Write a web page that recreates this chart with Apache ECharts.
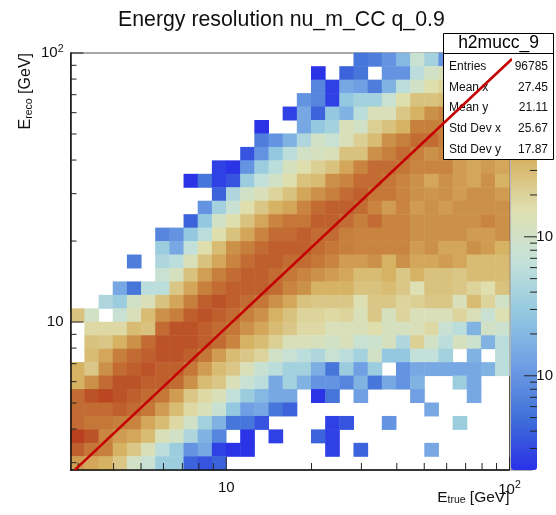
<!DOCTYPE html>
<html><head><meta charset="utf-8">
<style>html,body{margin:0;padding:0;background:#fff;overflow:hidden}#c{width:556px;height:515px}</style>
<script src="https://cdn.jsdelivr.net/npm/echarts@6/dist/echarts.min.js"></script>
</head><body><div id="c"></div>
<script>
const titleText = 'Energy resolution nu_m_CC q_0.9';
const statName = 'h2mucc_9';
const statLabels = ['Entries','Mean x','Mean y','Std Dev x','Std Dev y'];
const statValues = ['96785','27.45','21.11','25.67','17.87'];
const axisMin = 2.818, axisMax = 100;
const zMin = 2.1, zMax = 2100;
const xMinorTicks = [3,4,5,6,7,8,9,20,30,40,50,60,70,80,90];
const yMinorTicks = [3,4,5,6,7,8,9,20,30,40,50,60,70,80,90];
const majorTicks = [10,100];
const zMinorTicks = [3,4,5,6,7,8,9,20,30,40,50,60,70,80,90,200,300,400,500,600,700,800,900];
const zMajorTicks = [10,100,1000];
const diagX = [2.92,102];
const diagY = [2.82,95];
// counts per cell; first row is the top row (E_reco high), first column is the left one (E_true low)
const counts = [
[0,0,0,0,0,0,0,0,0,0,0,0,0,0,0,0,0,0,0,0,5.6,6.4,9.6,20,76,38,9.6,38,57,46,57],
[0,0,0,0,0,0,0,0,0,0,0,0,0,0,0,0,0,2.2,0,4.2,5.6,0,9.6,9.6,57,100,132,100,76,100,115],
[0,0,0,0,0,0,0,0,0,0,0,0,0,0,0,0,0,7.4,2.6,14.6,12,6.4,18,57,100,162,195,162,214,195,245],
[0,0,0,0,0,0,0,0,0,0,0,0,0,0,0,0,9.6,7.4,2.6,28,38,38,76,162,272,272,302,302,272,360,302],
[0,0,0,0,0,0,0,0,0,0,0,0,0,0,0,2.6,14.6,4.2,28,18,57,132,132,245,360,650,800,530,445,530,530],
[0,0,0,0,0,0,0,0,0,0,0,0,0,2.2,0,0,14.6,28,38,132,100,214,272,360,890,890,890,650,650,530,650],
[0,0,0,0,0,0,0,0,0,0,0,0,0,6.4,9.6,18,46,100,76,132,214,302,650,890,1170,1170,890,800,650,650,650],
[0,0,0,0,0,0,0,0,0,0,0,0,3.4,9.6,28,57,100,115,132,272,272,650,890,1170,890,650,800,650,530,650,530],
[0,0,0,0,0,0,0,0,0,0,2.6,2.2,9.6,33,57,115,162,214,272,445,800,1170,1170,990,800,800,800,530,445,530,445],
[0,0,0,0,0,0,0,0,2.2,5.6,2.6,3.4,33,65,100,162,272,302,650,800,1170,1170,990,800,650,445,650,530,445,650,360],
[0,0,0,0,0,0,0,0,0,0,4.2,46,100,132,195,272,445,650,890,1170,1380,990,990,800,650,600,650,530,650,650,530],
[0,0,0,0,0,0,0,0,0,9.6,38,76,162,245,360,445,800,1170,1380,1380,1170,800,530,800,530,650,530,650,650,650,650],
[0,0,0,0,0,0,0,0,4.2,28,100,162,272,445,800,1000,990,1380,1380,1170,890,1170,800,800,650,650,650,650,650,800,650],
[0,0,0,0,0,0,7.4,9.6,28,57,162,272,445,800,1170,1170,1380,1170,1170,890,800,800,800,800,650,650,650,650,530,530,650],
[0,0,0,0,0,0,33,14.6,65,162,302,650,890,1170,1380,1380,1380,1170,990,890,800,800,800,800,530,650,445,445,650,530,360],
[0,0,0,0,6.4,0,46,57,132,272,445,800,1170,1380,1380,1170,1170,990,800,530,530,650,360,650,445,445,530,445,302,302,302],
[0,0,0,0,0,0,76,115,272,500,890,1170,1380,1380,1170,990,800,650,530,445,302,302,360,245,360,272,272,245,302,302,302],
[0,0,0,14.6,5.6,57,57,245,445,890,1170,1380,1380,1380,1170,800,650,360,360,360,272,272,302,245,150,272,272,245,195,162,272],
[0,0,46,33,100,132,272,445,890,1380,1640,1380,1170,990,650,445,272,245,245,245,150,245,245,195,214,245,245,132,302,195,100],
[272,100,0,76,132,302,650,890,1380,1640,1380,1170,890,650,360,272,195,195,180,195,132,245,115,195,132,132,132,195,132,76,150],
[0,180,180,180,302,272,1170,1640,1640,1380,1170,990,650,445,302,245,180,180,132,132,132,162,115,115,132,180,76,57,18,100,85],
[0,272,245,360,650,1170,1640,1640,1640,1380,1170,800,360,302,214,132,132,120,100,132,76,85,115,46,214,100,57,115,85,18,57],
[0,302,445,890,1170,1380,1640,1640,1380,990,530,302,245,195,100,76,57,46,76,57,38,100,28,28,65,65,38,0,18,0,57],
[360,245,650,1170,1380,1640,1380,1380,990,530,302,245,132,76,57,38,38,16,5.6,33,12,33,0,9.6,14.6,14.6,14.6,14.6,14.6,18,57],
[360,650,1170,1640,1640,1380,1380,1170,650,302,245,132,76,57,14.6,38,18,9.6,9.6,7.4,18,5.6,14.6,9.6,18,0,0,33,14.6,0,0],
[1170,1640,1900,1640,1380,1170,990,530,245,180,132,65,33,20,14.6,14.6,0,2.2,5.6,0,12,0,0,0,12,0,0,0,14.6,0,0],
[1170,1170,1170,1380,1170,990,530,302,180,132,76,28,12,14.6,5.6,4.2,0,0,0,0,0,0,0,0,0,14.6,0,0,0,0,0],
[1170,990,990,890,800,445,302,180,100,38,18,5.6,5.6,3.4,0,0,0,0,2.6,3.4,0,0,9.6,0,0,0,0,33,0,0,0],
[2100,1640,800,530,445,302,132,100,46,18,7.4,0,2.2,0,2.6,0,0,4.2,2.6,0,0,0,0,0,0,0,0,0,0,0,0],
[1380,990,890,360,245,132,57,33,9.6,14.6,2.6,2.2,2.2,0,0,0,0,0,2.6,0,4.2,0,0,0,0,14.6,0,0,0,0,0],
[530,445,360,245,100,76,33,33,4.2,3.4,4.2,0,0,0,0,0,0,0,0,0,0,0,0,0,0,0,0,0,0,0,0]
];
const paletteStops = ['#2a30e8','#4070d8','#6f9ee4','#93c8e0','#c4e1da','#dfe0b0','#d6b060','#c77f3c','#b8401f'];

const nBins = counts[0].length;
const binIdx = counts[0].map((_, i) => i);
const heatData = [];
counts.forEach((row, j) => row.forEach((v, i) => {
  if (v > 0) heatData.push([i, nBins - 1 - j, Math.log10(v)]);
}));

const FONT = '"Liberation Sans", Arial, sans-serif';
const GRID = {left: 70.5, top: 53, width: 439, height: 417};

function tickSeries(name, values, xAxisIndex, yAxisIndex, mode, len) {
  return {
    type: 'custom', name, xAxisIndex, yAxisIndex, z: 6, silent: true, clip: false,
    data: values.map(v => [v]),
    encode: mode === 'x' ? {x: 0} : {y: 0},
    renderItem(params, api) {
      const v = api.value(0);
      let a, b;
      if (mode === 'x') { const p = api.coord([v, axisMin]); a = p; b = [p[0], p[1] - len]; }
      else if (mode === 'y') { const p = api.coord([axisMin, v]); a = p; b = [p[0] + len, p[1]]; }
      else { const p = api.coord([1, v]); const right = GRID.left + 439 + 1.5 + 26; a = [right, p[1]]; b = [right - len, p[1]]; }
      return {type: 'line', shape: {x1: a[0], y1: a[1], x2: b[0], y2: b[1]}, style: {stroke: '#222', lineWidth: 1}};
    }
  };
}

const near = (v, t) => Math.abs(v - t) < 0.01 * t;
const supLabel = v => near(v, 100) ? '{n|10}{s|2}' : (near(v, 10) ? '{n|10}' : '');
const rich = {n: {fontSize: 15, fontFamily: FONT, color: '#111'}, s: {fontSize: 10.5, fontFamily: FONT, color: '#111', padding: [0, 0, 8, 0]}};

const boxL = 443.5, boxT = 33.5, boxW = 110, boxH = 126;
const rowY = [67, 87.5, 108, 129, 149.5];
const boxEls = [
  {type: 'rect', shape: {x: boxL, y: boxT, width: boxW, height: boxH}, style: {fill: '#fff', stroke: '#000', lineWidth: 1}, z: 50},
  {type: 'line', shape: {x1: boxL, y1: 53.5, x2: boxL + boxW, y2: 53.5}, style: {stroke: '#000', lineWidth: 1}, z: 51},
  {type: 'text', x: boxL + boxW / 2, y: 43.5, style: {text: statName, font: '17.5px ' + FONT, fill: '#000', align: 'center', verticalAlign: 'middle'}, z: 52}
];
statLabels.forEach((t, i) => {
  boxEls.push({type: 'text', x: 449, y: rowY[i], style: {text: t, font: '12px ' + FONT, fill: '#111', align: 'left', verticalAlign: 'middle'}, z: 52});
  boxEls.push({type: 'text', x: 548, y: rowY[i], style: {text: statValues[i], font: '12px ' + FONT, fill: '#111', align: 'right', verticalAlign: 'middle'}, z: 52});
});

const chart = echarts.init(document.getElementById('c'), null, {renderer: 'canvas'});
chart.setOption({
  animation: false,
  backgroundColor: '#fff',
  title: {text: titleText, left: 113, top: 5, textStyle: {fontSize: 21.3, fontWeight: 'normal', color: '#111', fontFamily: FONT}},
  grid: [
    Object.assign({show: true, borderColor: '#555', borderWidth: 1, backgroundColor: 'transparent'}, GRID),
    {left: 511, top: 53, width: 26, height: 417, show: true, borderColor: '#666', borderWidth: 1, backgroundColor: 'transparent'}
  ],
  xAxis: [
    {type: 'category', gridIndex: 0, data: binIdx, show: false},
    {type: 'log', gridIndex: 0, logBase: 10, min: axisMin, max: axisMax, position: 'bottom', z: 5,
     axisLine: {show: true, lineStyle: {color: '#111', width: 1.5}}, axisTick: {show: false}, splitLine: {show: false}, minorTick: {show: false},
     axisLabel: {show: true, customValues: majorTicks, formatter: supLabel, rich, margin: 10},
     name: '{e|E}{u|true}{e| [GeV]}', nameLocation: 'end', nameGap: 0, nameMoveOverlap: false,
     nameTextStyle: {align: 'right', verticalAlign: 'top', padding: [19, 0, 0, 0], rich: {e: {fontSize: 15.5, fontFamily: FONT, color: '#111'}, u: {fontSize: 10.5, fontFamily: FONT, color: '#111', padding: [6, 0, 0, 0]}}}},
    {type: 'value', gridIndex: 1, min: 0, max: 2, show: false}
  ],
  yAxis: [
    {type: 'category', gridIndex: 0, data: binIdx, show: false},
    {type: 'log', gridIndex: 0, logBase: 10, min: axisMin, max: axisMax, position: 'left', z: 5,
     axisLine: {show: true, lineStyle: {color: '#111', width: 1.5}}, axisTick: {show: false}, splitLine: {show: false}, minorTick: {show: false},
     axisLabel: {show: true, customValues: majorTicks, formatter: supLabel, rich, margin: 7},
     name: '{e|E}{u|reco}{e| [GeV]}', nameLocation: 'end', nameRotate: 90, nameGap: 0, nameMoveOverlap: false,
     nameTextStyle: {align: 'right', verticalAlign: 'bottom', padding: [0, 0, 36, 0], rich: {e: {fontSize: 16, fontFamily: FONT, color: '#111'}, u: {fontSize: 10.5, fontFamily: FONT, color: '#111', padding: [6, 0, 0, 0]}}}},
    {type: 'log', gridIndex: 1, logBase: 10, min: zMin, max: zMax, position: 'right',
     axisLine: {show: false}, axisTick: {show: false}, splitLine: {show: false},
     axisLabel: {show: true, customValues: [10, 100], formatter: () => '10', margin: 4, fontSize: 15, color: '#111', fontFamily: FONT}}
  ],
  visualMap: {
    type: 'continuous', seriesIndex: 0, dimension: 2,
    min: Math.log10(zMin), max: Math.log10(zMax),
    inRange: {color: paletteStops},
    left: 511, top: 53, itemWidth: 26, itemHeight: 417, padding: 0,
    calculable: false, hoverLink: false, text: null, showLabel: false, z: 3
  },
  graphic: {elements: boxEls},
  series: [
    {type: 'heatmap', xAxisIndex: 0, yAxisIndex: 0, data: heatData, progressive: 0, z: 2, silent: true, emphasis: {disabled: true}, itemStyle: {borderWidth: 0}},
    tickSeries('xMinor', xMinorTicks, 1, 1, 'x', 7),
    tickSeries('xMajor', majorTicks, 1, 1, 'x', 13),
    tickSeries('yMinor', yMinorTicks, 1, 1, 'y', 6),
    tickSeries('yMajor', majorTicks, 1, 1, 'y', 13),
    tickSeries('zMinor', zMinorTicks, 2, 2, 'z', 7),
    tickSeries('zMajor', zMajorTicks, 2, 2, 'z', 13),
    {type: 'line', name: 'diagonal', xAxisIndex: 1, yAxisIndex: 1, clip: false, z: 100, silent: true,
     data: diagX.map((x, i) => [x, diagY[i]]), symbol: 'none', lineStyle: {color: '#c40000', width: 2.6}}
  ]
});
</script></body></html>
